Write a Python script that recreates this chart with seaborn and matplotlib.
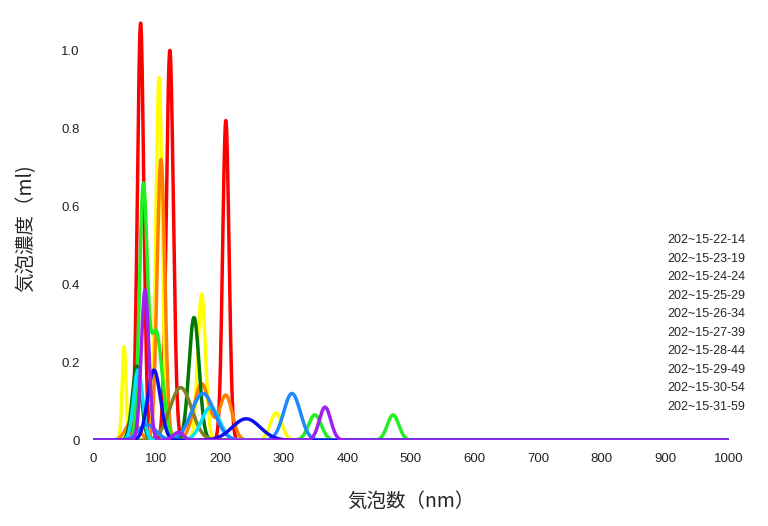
import numpy as np
import pandas as pd
import matplotlib
matplotlib.use("Agg")
import matplotlib.pyplot as plt
import seaborn as sns

labels = ["202~15-22-14", "202~15-23-19", "202~15-24-24", "202~15-25-29", "202~15-26-34",
          "202~15-27-39", "202~15-28-44", "202~15-29-49", "202~15-30-54", "202~15-31-59"]
colors = ["#ff0000", "#ffff00", "#ff8000", "#22ee22", "#007700",
          "#808020", "#00e5ff", "#1e88ff", "#1010ee", "#a020f0"]
# peak centres (nm), heights (ml), widths (nm) per series
centers = [[75, 121, 209], [49, 104, 171, 288], [62, 107, 171, 209], [79, 99, 349, 472], [69, 159],
           [138], [71, 185], [85, 173, 313], [96, 241], [82, 134, 365]]
heights = [[1.07, 1.0, 0.82], [0.24, 0.93, 0.375, 0.07], [0.05, 0.72, 0.145, 0.115], [0.62, 0.28, 0.065, 0.065], [0.19, 0.315],
           [0.135], [0.18, 0.085], [0.04, 0.12, 0.12], [0.18, 0.055], [0.385, 0.02, 0.085]]
widths = [[5, 5.5, 5], [3, 5, 6, 9], [10, 6, 12, 10], [6, 10, 10, 9], [7, 8],
          [17], [7, 14], [14, 18, 13], [10, 22], [6, 8, 9]]

x = np.linspace(0, 1000, 2001)
rows = []
for lab, cs, hs, ws in zip(labels, centers, heights, widths):
    y = np.zeros_like(x)
    for c, h, w in zip(cs, hs, ws):
        y += h * np.exp(-0.5 * ((x - c) / w) ** 2)
    rows.append(pd.DataFrame({"x": x, "y": y, "s": lab}))
df = pd.concat(rows)

sns.set_theme(style="white")
plt.rcParams['font.family'] = ['Liberation Sans', 'Noto Sans CJK JP', 'DejaVu Sans']
fig = plt.figure(figsize=(7.68, 5.26), dpi=100)
ax = fig.add_axes([0.121, 0.163, 0.828, 0.808])
sns.lineplot(data=df, x="x", y="y", hue="s", palette=colors, linewidth=2.5, ax=ax, legend=True)
ax.set_xlim(0, 1000)
ax.set_ylim(0, 1.09)
ax.set_xticks(range(0, 1001, 100))
ax.set_yticks([0, 0.2, 0.4, 0.6, 0.8, 1.0])
ax.set_yticklabels(["0", "0.2", "0.4", "0.6", "0.8", "1.0"])
ax.tick_params(labelsize=9.5, colors="#222222")
for s in ax.spines.values():
    s.set_visible(False)
ax.set_xlabel("気泡数（nm）", fontsize=14, labelpad=18, family=['Noto Sans CJK JP'])
ax.set_ylabel("気泡濃度（ml)", fontsize=14, labelpad=18, family=['Noto Sans CJK JP'])
leg = ax.legend(loc="center left", bbox_to_anchor=(0.885, 0.275), frameon=False,
                handlelength=0, handletextpad=0, fontsize=9, labelspacing=0.52)
for h in leg.legend_handles:
    h.set_visible(False)
fig.savefig("out.png", dpi=100)
